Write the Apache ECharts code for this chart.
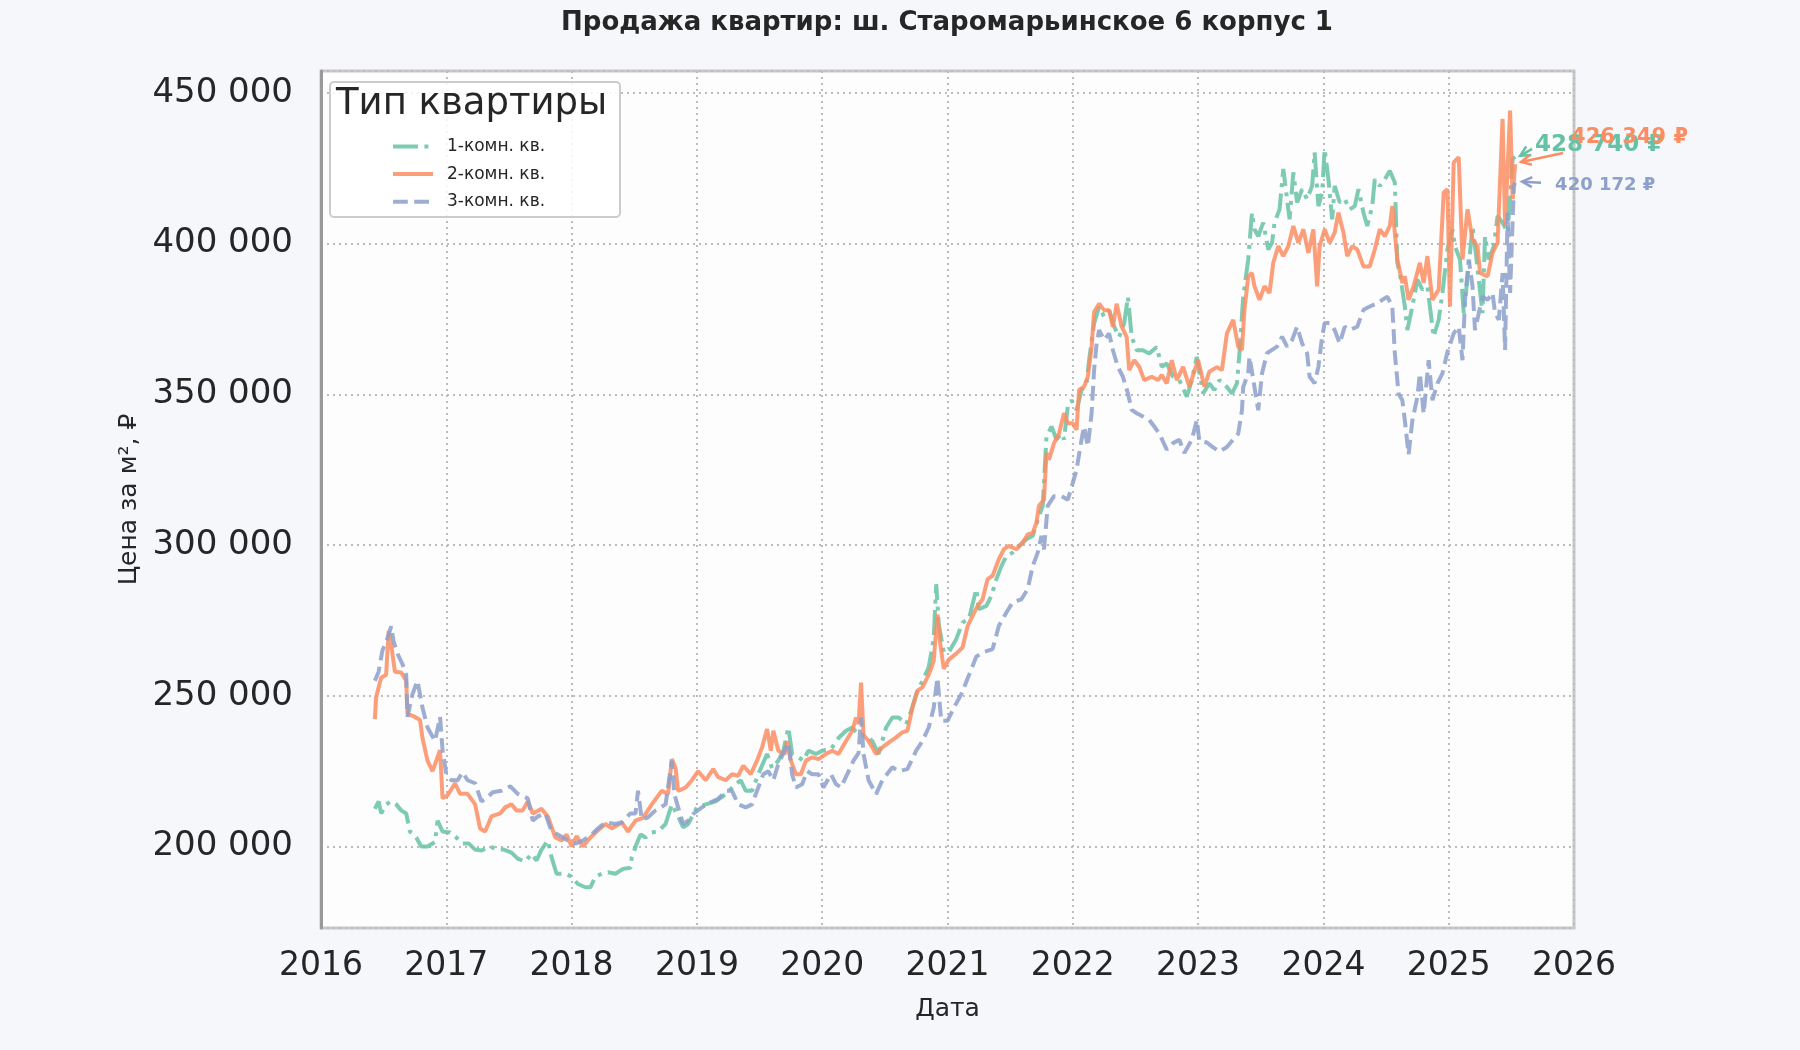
<!DOCTYPE html>
<html>
<head>
<meta charset="utf-8">
<script src="https://cdn.jsdelivr.net/npm/echarts@6/dist/echarts.min.js"></script>
<style>
html,body{margin:0;padding:0;background:#f5f7fb;}
#chart{width:1800px;height:1050px;}
</style>
</head>
<body>
<div id="chart"></div>
<script>
// ---- DATA (x = decimal year, y = ₽ per m²) ----
const seriesNames = ['1-комн. кв.', '2-комн. кв.', '3-комн. кв.'];
const yearTicks = [2016, 2017, 2018, 2019, 2020, 2021, 2022, 2023, 2024, 2025, 2026];

const oneDates = [2016.43,2016.46,2016.48,2016.52,2016.56,2016.60,2016.64,2016.68,2016.71,2016.76,2016.80,2016.85,2016.91,2016.93,2016.97,2017.03,2017.08,2017.13,2017.18,2017.23,2017.28,2017.35,2017.41,2017.46,2017.52,2017.57,2017.63,2017.68,2017.72,2017.76,2017.81,2017.84,2017.88,2017.95,2018.00,2018.05,2018.11,2018.15,2018.19,2018.24,2018.29,2018.35,2018.41,2018.47,2018.48,2018.52,2018.55,2018.59,2018.64,2018.69,2018.75,2018.80,2018.85,2018.89,2018.93,2019.00,2019.07,2019.15,2019.23,2019.31,2019.35,2019.39,2019.44,2019.49,2019.56,2019.60,2019.65,2019.69,2019.73,2019.76,2019.81,2019.85,2019.89,2019.95,2020.00,2020.07,2020.13,2020.19,2020.24,2020.29,2020.35,2020.40,2020.45,2020.51,2020.56,2020.61,2020.67,2020.71,2020.75,2020.80,2020.85,2020.89,2020.91,2020.93,2020.97,2021.01,2021.07,2021.12,2021.17,2021.23,2021.25,2021.31,2021.35,2021.39,2021.43,2021.47,2021.52,2021.57,2021.63,2021.68,2021.73,2021.76,2021.79,2021.83,2021.87,2021.91,2021.93,2021.96,2021.99,2022.03,2022.07,2022.11,2022.13,2022.17,2022.21,2022.25,2022.29,2022.33,2022.37,2022.41,2022.44,2022.47,2022.51,2022.56,2022.61,2022.67,2022.71,2022.75,2022.80,2022.85,2022.91,2022.95,2022.99,2023.04,2023.09,2023.13,2023.17,2023.23,2023.27,2023.31,2023.33,2023.36,2023.40,2023.43,2023.45,2023.48,2023.52,2023.56,2023.59,2023.61,2023.65,2023.68,2023.71,2023.73,2023.76,2023.79,2023.83,2023.87,2023.91,2023.93,2023.96,2023.99,2024.01,2024.04,2024.07,2024.09,2024.13,2024.17,2024.21,2024.25,2024.28,2024.32,2024.35,2024.39,2024.41,2024.45,2024.49,2024.53,2024.57,2024.59,2024.61,2024.65,2024.67,2024.71,2024.75,2024.79,2024.83,2024.88,2024.92,2024.95,2024.99,2025.03,2025.05,2025.09,2025.12,2025.16,2025.19,2025.21,2025.24,2025.27,2025.29,2025.32,2025.36,2025.39,2025.43,2025.47,2025.51,2025.53];
const oneVals = [212500,215000,211000,214000,215000,214000,212000,211000,205000,203000,200000,200000,201500,208600,205000,204700,203000,201000,201000,199000,198700,200000,199000,199000,198000,196000,195000,197600,195400,199000,202000,196500,191000,191000,190000,187600,186500,186500,190000,191000,191500,191000,192600,193000,196500,201000,204000,203000,204700,205000,207500,214000,210000,206400,207500,213000,214000,215000,217400,220700,222000,218500,218500,224000,230700,226000,228500,231800,239500,230700,229600,228500,231800,230700,231800,232300,236000,238400,239500,237000,236800,235000,230700,239500,242800,242800,240600,245000,250500,255000,259400,269000,287000,273700,264500,264400,268800,274300,275400,285400,278700,279800,283100,288700,293000,296400,297500,299700,301900,303000,309600,313000,336000,339300,335000,337000,335000,346000,348000,344800,351400,353600,361300,373500,379000,375700,377900,372400,369000,373500,382300,369000,364600,364600,363500,365700,359100,360200,355800,354700,349200,354700,362400,350300,353600,351400,354700,352400,350200,353600,363600,382400,394700,410200,404700,402400,406900,398000,400200,406900,411300,424700,414700,408000,423600,413600,418000,414700,419100,430200,412400,416900,431300,421300,408000,419100,413600,414700,411300,412400,418000,410200,405800,412400,421300,419100,421300,424100,420200,393600,390200,379100,371300,379100,388000,384700,385800,369100,374700,383600,398000,404700,399100,394700,376900,392400,405800,399100,388000,376900,402400,394700,399100,409100,406900,403600,428000,428740];

const twoDates = [2016.43,2016.44,2016.48,2016.52,2016.54,2016.56,2016.59,2016.64,2016.68,2016.69,2016.75,2016.79,2016.81,2016.85,2016.89,2016.95,2016.97,2017.01,2017.07,2017.11,2017.17,2017.23,2017.27,2017.31,2017.36,2017.43,2017.47,2017.52,2017.56,2017.61,2017.65,2017.69,2017.76,2017.81,2017.87,2017.92,2017.96,2018.00,2018.04,2018.09,2018.15,2018.20,2018.27,2018.32,2018.40,2018.45,2018.51,2018.57,2018.64,2018.72,2018.77,2018.80,2018.83,2018.85,2018.91,2018.96,2019.01,2019.07,2019.13,2019.17,2019.23,2019.28,2019.33,2019.37,2019.43,2019.48,2019.52,2019.56,2019.59,2019.61,2019.65,2019.70,2019.72,2019.75,2019.79,2019.83,2019.87,2019.92,2019.97,2020.03,2020.08,2020.13,2020.19,2020.24,2020.27,2020.29,2020.31,2020.33,2020.37,2020.43,2020.48,2020.53,2020.59,2020.64,2020.68,2020.72,2020.76,2020.80,2020.85,2020.89,2020.92,2020.94,2020.97,2021.01,2021.07,2021.12,2021.16,2021.20,2021.24,2021.28,2021.32,2021.36,2021.41,2021.45,2021.49,2021.55,2021.60,2021.64,2021.68,2021.71,2021.73,2021.77,2021.79,2021.81,2021.85,2021.89,2021.93,2021.96,2022.00,2022.03,2022.05,2022.09,2022.12,2022.15,2022.17,2022.21,2022.25,2022.29,2022.32,2022.35,2022.39,2022.43,2022.45,2022.49,2022.53,2022.57,2022.63,2022.68,2022.71,2022.75,2022.79,2022.83,2022.88,2022.93,2023.00,2023.05,2023.09,2023.15,2023.19,2023.23,2023.28,2023.32,2023.35,2023.37,2023.40,2023.43,2023.45,2023.49,2023.53,2023.57,2023.60,2023.64,2023.68,2023.72,2023.76,2023.80,2023.84,2023.88,2023.92,2023.95,2023.97,2024.01,2024.05,2024.09,2024.12,2024.16,2024.19,2024.23,2024.27,2024.32,2024.37,2024.41,2024.45,2024.49,2024.53,2024.55,2024.59,2024.63,2024.65,2024.68,2024.72,2024.77,2024.80,2024.83,2024.87,2024.92,2024.96,2024.99,2025.01,2025.04,2025.08,2025.11,2025.15,2025.19,2025.23,2025.25,2025.31,2025.35,2025.39,2025.43,2025.45,2025.49,2025.51,2025.53];
const twoVals = [242300,249500,256000,257000,271500,267000,258000,257700,255000,244000,243000,242000,236000,228500,225000,232000,216000,217000,221000,217500,217500,214000,206000,205000,210000,211000,213000,214000,212000,212000,215000,211000,212500,210000,203000,202000,204000,200000,203500,200000,203000,205000,207500,206000,208000,205000,208600,209500,214000,218500,217400,229000,226000,218500,219600,222000,225000,222000,225700,223000,222000,224000,223500,226800,224000,228500,232900,239000,231800,238400,231800,230700,235000,228500,224000,224000,228500,229600,229000,230700,231800,230700,235000,238400,242800,240600,254400,237000,235000,230700,232900,234500,236200,237900,238400,246000,251700,252800,257000,261600,277000,268000,259000,262000,264000,266000,273000,276500,279800,282000,288700,289800,295300,298600,299700,298600,300800,303500,304000,307400,313000,315000,330500,328300,333800,337000,343700,340400,340400,338200,351400,352500,355800,365700,377300,380000,377900,377900,372400,380000,372400,369000,358000,361300,359100,354700,355800,354700,356400,353600,361300,354700,359100,352500,361300,352500,357500,359000,358000,370200,374700,365800,364700,378000,389100,390200,385800,381300,385800,383600,393600,399100,395800,399100,405800,400200,404700,396900,404700,385800,399100,404700,400200,403600,410200,403600,395800,399100,398000,392400,392400,398000,404700,402400,405800,412400,394700,386900,389100,381300,385800,393600,386900,395800,381300,384700,416900,418000,379100,426900,428600,394700,411300,401300,399100,390200,389100,396900,400200,441300,405800,444100,414700,426349];

const threeDates = [2016.43,2016.46,2016.49,2016.53,2016.56,2016.58,2016.61,2016.65,2016.68,2016.69,2016.73,2016.77,2016.81,2016.85,2016.91,2016.95,2016.97,2017.00,2017.04,2017.09,2017.13,2017.17,2017.23,2017.28,2017.32,2017.37,2017.44,2017.51,2017.57,2017.65,2017.69,2017.73,2017.79,2017.84,2017.89,2017.97,2018.03,2018.09,2018.16,2018.21,2018.27,2018.35,2018.40,2018.47,2018.51,2018.53,2018.56,2018.61,2018.67,2018.75,2018.80,2018.82,2018.85,2018.89,2018.93,2018.97,2019.04,2019.11,2019.17,2019.23,2019.28,2019.33,2019.39,2019.44,2019.48,2019.53,2019.57,2019.61,2019.65,2019.71,2019.73,2019.76,2019.79,2019.84,2019.88,2019.92,2019.97,2020.01,2020.07,2020.11,2020.15,2020.20,2020.25,2020.29,2020.31,2020.33,2020.37,2020.43,2020.48,2020.56,2020.61,2020.68,2020.75,2020.80,2020.85,2020.89,2020.92,2020.95,2021.00,2021.05,2021.11,2021.17,2021.23,2021.28,2021.36,2021.41,2021.47,2021.52,2021.59,2021.64,2021.68,2021.72,2021.75,2021.77,2021.80,2021.85,2021.91,2021.96,2022.00,2022.03,2022.07,2022.09,2022.12,2022.15,2022.17,2022.19,2022.21,2022.25,2022.29,2022.32,2022.36,2022.40,2022.44,2022.47,2022.51,2022.56,2022.61,2022.65,2022.69,2022.75,2022.80,2022.85,2022.89,2022.95,2022.99,2023.01,2023.07,2023.12,2023.17,2023.23,2023.28,2023.32,2023.35,2023.36,2023.40,2023.41,2023.45,2023.48,2023.51,2023.55,2023.59,2023.63,2023.67,2023.71,2023.75,2023.79,2023.83,2023.87,2023.89,2023.93,2023.96,2023.99,2024.01,2024.05,2024.09,2024.13,2024.17,2024.21,2024.27,2024.32,2024.37,2024.43,2024.47,2024.51,2024.55,2024.57,2024.60,2024.63,2024.65,2024.68,2024.71,2024.75,2024.77,2024.80,2024.84,2024.87,2024.91,2024.95,2024.99,2025.04,2025.08,2025.11,2025.13,2025.16,2025.19,2025.21,2025.24,2025.27,2025.31,2025.35,2025.37,2025.40,2025.43,2025.45,2025.47,2025.49,2025.52,2025.53];
const threeVals = [255000,258000,265000,269000,273000,268000,264000,260500,257000,243000,250500,255000,246000,239500,235000,243000,232000,224000,222000,222000,224600,222000,221000,215000,216000,218000,218500,220000,217500,216000,208600,210000,211000,205000,204000,202000,201000,202000,204000,206000,208000,207500,208000,211000,211000,218500,209000,209700,212000,214000,228500,217400,213000,207500,208600,210800,213000,214700,215800,218500,218500,214000,213000,214000,218500,224000,225000,222000,227400,232900,234500,224000,219600,220700,225000,224000,224000,219600,224000,220700,219600,224000,228500,231000,242800,230700,222000,217400,222000,226300,225000,225700,231800,235000,239500,246000,256000,241700,241700,246000,250500,256700,263000,264400,265500,273200,277600,281000,282000,285400,293000,297500,303000,298600,313000,316200,316200,315000,320600,325000,335000,339300,332700,343700,358000,366900,371300,368000,370200,364600,359100,355800,350300,344800,343700,342600,341500,339300,337000,331600,333800,334900,330500,334900,341500,334500,334000,332400,331000,332500,335000,336900,344700,352400,356900,362400,352400,344700,356900,363600,364700,365800,369100,365800,368000,372400,366900,363600,355800,353600,359100,369100,373600,373600,371300,366900,372400,371300,372400,378000,379100,380200,381300,382400,379100,363600,350200,348000,341300,330000,341300,349100,356900,343600,361300,348000,353600,356900,364000,370200,372400,361300,381300,394700,385800,371300,376900,382400,381300,383600,376900,374700,390200,364700,410200,383600,419100,420172];

// ---- CHART ----
const FONT = 'DejaVu Sans';
const TEXT = '#262626';
const colors = ['#66c2a5', '#fc8d62', '#8da0cb'];
const lineTypes = [[25, 6.4, 4, 6.4], 'solid', [14.8, 6.4]];
const allDates = [oneDates, twoDates, threeDates];
const allVals = [oneVals, twoVals, threeVals];

function zip(xs, ys) { return xs.map((x, i) => [x, ys[i]]); }
function fmtThousands(v) { return String(Math.round(v)).replace(/\B(?=(\d{3})+(?!\d))/g, ' '); }

const chart = echarts.init(document.getElementById('chart'), null, { renderer: 'canvas' });

const series = seriesNames.map((name, i) => ({
  name: name,
  type: 'line',
  data: zip(allDates[i], allVals[i]),
  showSymbol: false,
  symbol: 'none',
  smooth: false,
  animation: false,
  z: 2 + i,
  lineStyle: { color: colors[i], width: 4, type: lineTypes[i], opacity: 0.85, cap: 'butt' },
  itemStyle: { color: colors[i] }
}));

const option = {
  backgroundColor: '#f5f7fb',
  animation: false,
  textStyle: { fontFamily: FONT },
  grid: {
    left: 321, right: 226, top: 71, bottom: 122,
    show: true, backgroundColor: '#fdfdfd', borderColor: '#c8c8c8', borderWidth: 3
  },
  xAxis: {
    type: 'value',
    min: yearTicks[0], max: yearTicks[yearTicks.length - 1], interval: 1,
    name: 'Дата', nameLocation: 'middle', nameGap: 69,
    nameTextStyle: { fontFamily: FONT, fontSize: 25, color: TEXT },
    axisLine: { show: false },
    axisTick: { show: false },
    axisLabel: { fontFamily: FONT, fontSize: 33, color: TEXT, margin: 22, formatter: v => String(Math.round(v)) },
    splitLine: { show: true, lineStyle: { color: '#bcbcbc', width: 2, type: [2, 4] } }
  },
  yAxis: {
    type: 'value',
    min: 173000, max: 457200, splitNumber: 5,
    name: 'Цена за м², ₽', nameLocation: 'middle', nameGap: 178,
    nameTextStyle: { fontFamily: FONT, fontSize: 25, color: TEXT },
    axisLine: { show: true, lineStyle: { color: '#999999', width: 3 } },
    axisTick: { show: false },
    axisLabel: { fontFamily: FONT, fontSize: 34, color: TEXT, margin: 28, showMinLabel: false, showMaxLabel: false, formatter: fmtThousands },
    splitLine: { show: true, lineStyle: { color: '#bcbcbc', width: 2, type: [2, 4] } }
  },
  legend: {
    data: seriesNames,
    orient: 'vertical',
    left: 386, top: 133,
    itemWidth: 40, itemHeight: 14, itemGap: 10.6,
    itemStyle: { opacity: 0 },
    lineStyle: { width: 4 },
    textStyle: { fontFamily: FONT, fontSize: 17, color: TEXT, padding: [0, 0, 0, 9] },
    selectedMode: false,
    z: 10
  },
  series: series
};

chart.setOption(option);

// ---- annotations & decorations (positions derived from axes) ----
function buildGraphics() {
  const g = [];
  // title
  g.push({ type: 'text', style: { x: 947, y: 23, text: 'Продажа квартир: ш. Старомарьинское 6 корпус 1', font: 'bold 26px "DejaVu Sans"', fill: TEXT, textAlign: 'center', textVerticalAlign: 'middle' }, z: 20 });
  // legend frame + title
  g.push({ type: 'rect', shape: { x: 330, y: 82, width: 290, height: 135, r: 4 }, style: { fill: 'rgba(255,255,255,0.85)', stroke: '#cccccc', lineWidth: 2 }, z: 5 });
  g.push({ type: 'text', style: { x: 336, y: 104, text: 'Тип квартиры', font: '37px "DejaVu Sans"', fill: TEXT, textAlign: 'left', textVerticalAlign: 'middle' }, z: 6 });

  const labelCfg = [
    { text: '428 740 ₽', size: 23, tx: 20, ty: -12, a0: [17, -8], a1: [5, -1] },
    { text: '426 349 ₽', size: 21, tx: 56, ty: -26, a0: [48, -11], a1: [6, -2] },
    { text: '420 172 ₽', size: 18, tx: 40, ty: 3, a0: [26, 0], a1: [7, -1] }
  ];
  const order = [0, 2, 1];
  order.forEach(i => {
    const d = allDates[i], v = allVals[i];
    const p = chart.convertToPixel({ gridIndex: 0 }, [d[d.length - 1], v[v.length - 1]]);
    const c = labelCfg[i];
    const x0 = p[0] + c.a0[0], y0 = p[1] + c.a0[1];
    const x1 = p[0] + c.a1[0], y1 = p[1] + c.a1[1];
    const ang = Math.atan2(y1 - y0, x1 - x0);
    const hl = 10, hw = 5;
    const bx = x1 - hl * Math.cos(ang), by = y1 - hl * Math.sin(ang);
    const px = -Math.sin(ang) * hw, py = Math.cos(ang) * hw;
    g.push({ type: 'line', shape: { x1: x0, y1: y0, x2: x1, y2: y1 }, style: { stroke: colors[i], lineWidth: 2.5 }, z: 30 + i });
    g.push({ type: 'polyline', shape: { points: [[bx + px, by + py], [x1, y1], [bx - px, by - py]] }, style: { stroke: colors[i], lineWidth: 2.5, fill: null }, z: 30 + i });
    g.push({ type: 'text', style: { x: p[0] + c.tx, y: p[1] + c.ty, text: c.text, font: 'bold ' + c.size + 'px "DejaVu Sans"', fill: colors[i], textAlign: 'left', textVerticalAlign: 'middle' }, z: 40 + i });
  });
  chart.setOption({ graphic: g });
}
buildGraphics();
</script>
</body>
</html>
